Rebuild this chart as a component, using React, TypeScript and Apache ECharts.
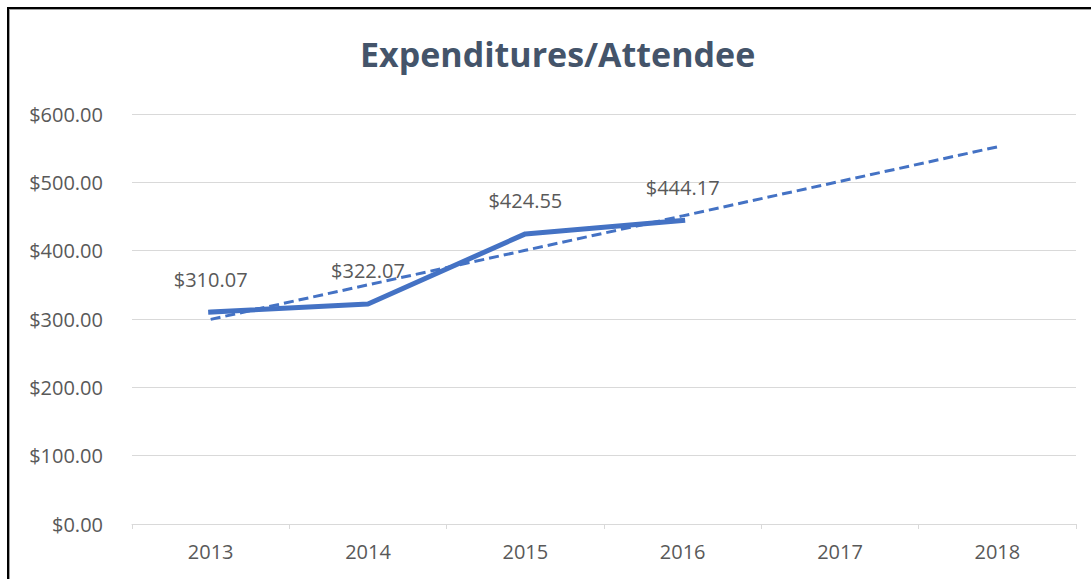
import React, { useEffect, useRef } from "react";
import * as echarts from "echarts";

const categories = ["2013", "2014", "2015", "2016", "2017", "2018"];
const expenditures = [310.07, 322.07, 424.55, 444.17, null, null];
const trend = [299.5, 350.0, 400.5, 450.9, 501.4, 551.9];
const yTicks = { min: 0, max: 600, interval: 100 };
const title = "Expenditures/Attendee";

export default function App() {
  const ref = useRef<HTMLDivElement>(null);
  useEffect(() => {
    if (!ref.current) return;
    const chart = echarts.init(ref.current, undefined, { renderer: "svg" });
    const font = "'Open Sans', 'Noto Sans', sans-serif";
    chart.setOption({
      animation: false,
      backgroundColor: "#ffffff",
      textStyle: { fontFamily: font },
      title: {
        text: title,
        left: 355,
        top: 32,
        textStyle: { fontSize: 34, fontWeight: "bold", color: "#44546A", fontFamily: font },
      },
      grid: { left: 132, right: 15, top: 114, bottom: 55, containLabel: false },
      xAxis: {
        type: "category",
        data: categories,
        boundaryGap: true,
        axisLine: { lineStyle: { color: "#D9D9D9", width: 1 } },
        axisTick: { show: true, alignWithLabel: false, length: 5, lineStyle: { color: "#D9D9D9" } },
        axisLabel: { color: "#595959", fontSize: 20, margin: 17, fontFamily: font },
        splitLine: { show: false },
      },
      yAxis: {
        type: "value",
        min: yTicks.min,
        max: yTicks.max,
        interval: yTicks.interval,
        axisLine: { show: false },
        axisTick: { show: false },
        axisLabel: {
          color: "#595959",
          fontSize: 20,
          margin: 29,
          fontFamily: font,
          formatter: (v: number) => "$" + v.toFixed(2),
        },
        splitLine: { lineStyle: { color: "#D9D9D9", width: 1 } },
      },
      series: [
        {
          name: "Expenditures/Attendee",
          type: "line",
          data: expenditures,
          showSymbol: true,
          symbol: "circle",
          symbolSize: 0,
          lineStyle: { color: "#4472C4", width: 5, cap: "square" },
          itemStyle: { color: "#4472C4" },
          label: {
            show: true,
            position: "top",
            distance: 23,
            color: "#595959",
            fontSize: 20,
            fontFamily: font,
            formatter: (p: any) => "$" + Number(p.value).toFixed(2),
          },
          z: 2,
        },
        {
          name: "Trend",
          type: "line",
          data: trend,
          showSymbol: false,
          symbol: "none",
          lineStyle: { color: "#4472C4", width: 3, type: [10, 5] },
          z: 3,
        },
      ],
      graphic: [
        { type: "rect", shape: { x: 7, y: 7, width: 1084, height: 2 }, style: { fill: "#000000" } },
        { type: "rect", shape: { x: 9, y: 9, width: 1082, height: 1 }, style: { fill: "#A0A0A0" } },
        { type: "rect", shape: { x: 7, y: 7, width: 2, height: 572 }, style: { fill: "#000000" } },
        { type: "rect", shape: { x: 9, y: 9, width: 1, height: 570 }, style: { fill: "#A0A0A0" } },
      ],
    });
    return () => chart.dispose();
  }, []);
  return (
    <div
      ref={ref}
      style={{ position: "fixed", left: 0, top: 0, width: 1091, height: 579 }}
    />
  );
}
